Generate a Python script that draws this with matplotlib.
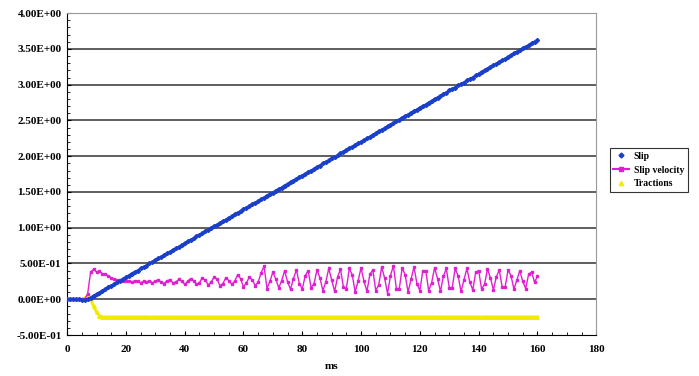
import numpy as np
import matplotlib
matplotlib.use("Agg")
import matplotlib.pyplot as plt
from matplotlib.ticker import MultipleLocator, FixedLocator
from matplotlib.lines import Line2D

# datos, paso de 1 en el eje x (0..160)
tiempo = list(range(0, 161))

slip = [0.00, 0.00, 0.00, 0.00, 0.00, -0.01, -0.01, 0.00, 0.02, 0.05,
        0.07, 0.09, 0.12, 0.14, 0.17, 0.19, 0.21, 0.24, 0.26, 0.28,
        0.31, 0.33, 0.36, 0.38, 0.40, 0.43, 0.45, 0.47, 0.50, 0.52,
        0.55, 0.57, 0.59, 0.62, 0.64, 0.66, 0.69, 0.71, 0.73, 0.76,
        0.78, 0.81, 0.83, 0.85, 0.88, 0.90, 0.92, 0.95, 0.97, 1.00,
        1.02, 1.04, 1.07, 1.09, 1.11, 1.14, 1.16, 1.19, 1.21, 1.23,
        1.26, 1.28, 1.30, 1.33, 1.35, 1.37, 1.40, 1.42, 1.45, 1.47,
        1.49, 1.52, 1.54, 1.56, 1.59, 1.61, 1.64, 1.66, 1.68, 1.71,
        1.73, 1.75, 1.78, 1.80, 1.82, 1.85, 1.87, 1.90, 1.92, 1.94,
        1.97, 1.99, 2.01, 2.04, 2.06, 2.09, 2.11, 2.13, 2.16, 2.18,
        2.20, 2.23, 2.25, 2.27, 2.30, 2.32, 2.35, 2.37, 2.39, 2.42,
        2.44, 2.46, 2.49, 2.51, 2.54, 2.56, 2.58, 2.61, 2.63, 2.65,
        2.68, 2.70, 2.72, 2.75, 2.77, 2.80, 2.82, 2.84, 2.87, 2.89,
        2.92, 2.94, 2.96, 2.99, 3.01, 3.03, 3.06, 3.08, 3.10, 3.13,
        3.15, 3.18, 3.20, 3.22, 3.25, 3.27, 3.29, 3.32, 3.34, 3.36,
        3.39, 3.41, 3.44, 3.46, 3.48, 3.51, 3.53, 3.55, 3.58, 3.60,
        3.62]

slip_velocity = [0.00, 0.00, 0.00, 0.00, 0.00, 0.00, 0.00, 0.08, 0.38, 0.42,
                 0.38, 0.39, 0.36, 0.35, 0.33, 0.30, 0.28, 0.27, 0.27, 0.26,
                 0.26, 0.25, 0.24, 0.26, 0.25, 0.23, 0.25, 0.24, 0.26, 0.23,
                 0.25, 0.27, 0.24, 0.22, 0.26, 0.27, 0.23, 0.24, 0.28, 0.25,
                 0.21, 0.25, 0.29, 0.26, 0.21, 0.23, 0.30, 0.27, 0.20, 0.24,
                 0.31, 0.28, 0.19, 0.22, 0.30, 0.26, 0.21, 0.25, 0.34, 0.29,
                 0.17, 0.23, 0.31, 0.27, 0.19, 0.24, 0.37, 0.46, 0.15, 0.25,
                 0.38, 0.28, 0.16, 0.26, 0.40, 0.24, 0.14, 0.29, 0.41, 0.22,
                 0.14, 0.33, 0.40, 0.16, 0.22, 0.41, 0.30, 0.12, 0.24, 0.43,
                 0.27, 0.11, 0.31, 0.42, 0.17, 0.15, 0.43, 0.34, 0.10, 0.26,
                 0.44, 0.25, 0.11, 0.35, 0.41, 0.12, 0.20, 0.45, 0.30, 0.08,
                 0.33, 0.47, 0.15, 0.15, 0.44, 0.34, 0.10, 0.28, 0.45, 0.22,
                 0.12, 0.40, 0.40, 0.12, 0.23, 0.44, 0.29, 0.11, 0.32, 0.43,
                 0.16, 0.16, 0.43, 0.33, 0.11, 0.27, 0.43, 0.24, 0.13, 0.38,
                 0.40, 0.14, 0.21, 0.42, 0.30, 0.13, 0.31, 0.41, 0.17, 0.17,
                 0.41, 0.33, 0.14, 0.27, 0.40, 0.25, 0.15, 0.35, 0.38, 0.24,
                 0.32]

tractions = [0.00, 0.00, 0.00, 0.00, 0.00, 0.00, 0.02, 0.05, 0.00, -0.10,
             -0.18, -0.23, -0.25, -0.25, -0.25, -0.25, -0.25, -0.25, -0.25, -0.25,
             -0.25, -0.25, -0.25, -0.25, -0.25, -0.25, -0.25, -0.25, -0.25, -0.25,
             -0.25, -0.25, -0.25, -0.25, -0.25, -0.25, -0.25, -0.25, -0.25, -0.25,
             -0.25, -0.25, -0.25, -0.25, -0.25, -0.25, -0.25, -0.25, -0.25, -0.25,
             -0.25, -0.25, -0.25, -0.25, -0.25, -0.25, -0.25, -0.25, -0.25, -0.25,
             -0.25, -0.25, -0.25, -0.25, -0.25, -0.25, -0.25, -0.25, -0.25, -0.25,
             -0.25, -0.25, -0.25, -0.25, -0.25, -0.25, -0.25, -0.25, -0.25, -0.25,
             -0.25, -0.25, -0.25, -0.25, -0.25, -0.25, -0.25, -0.25, -0.25, -0.25,
             -0.25, -0.25, -0.25, -0.25, -0.25, -0.25, -0.25, -0.25, -0.25, -0.25,
             -0.25, -0.25, -0.25, -0.25, -0.25, -0.25, -0.25, -0.25, -0.25, -0.25,
             -0.25, -0.25, -0.25, -0.25, -0.25, -0.25, -0.25, -0.25, -0.25, -0.25,
             -0.25, -0.25, -0.25, -0.25, -0.25, -0.25, -0.25, -0.25, -0.25, -0.25,
             -0.25, -0.25, -0.25, -0.25, -0.25, -0.25, -0.25, -0.25, -0.25, -0.25,
             -0.25, -0.25, -0.25, -0.25, -0.25, -0.25, -0.25, -0.25, -0.25, -0.25,
             -0.25, -0.25, -0.25, -0.25, -0.25, -0.25, -0.25, -0.25, -0.25, -0.25,
             -0.25]

y_ticks = [-0.5, 0.0, 0.5, 1.0, 1.5, 2.0, 2.5, 3.0, 3.5, 4.0]
x_ticks = [0, 20, 40, 60, 80, 100, 120, 140, 160, 180]

azul = "#1a3fc8"
magenta = "#e020d0"
amarillo = "#f2ea00"

fuente = {"family": "Liberation Serif", "weight": "bold", "size": 8}

fig = plt.figure(figsize=(6.99, 3.76), dpi=100)
ax = fig.add_axes([0.096, 0.109, 0.757, 0.856])

# lineas horizontales de la rejilla
for v in y_ticks[1:-1]:
    ax.axhline(v, color="#333333", lw=1.1, zorder=1)

ax.plot(tiempo, tractions, color=amarillo, lw=2, marker="^", ms=2.5, zorder=2)
ax.plot(tiempo, slip_velocity, color=magenta, lw=1, marker="s", ms=2, zorder=3)
ax.plot(tiempo, slip, color=azul, lw=1.8, marker="D", ms=2, zorder=4)

ax.set_xlim(0, 180)
ax.set_ylim(-0.5, 4.0)
ax.xaxis.set_major_locator(FixedLocator(x_ticks))
ax.yaxis.set_major_locator(FixedLocator(y_ticks))
ax.xaxis.set_minor_locator(MultipleLocator(5))
ax.yaxis.set_minor_locator(MultipleLocator(0.1))
ax.set_yticklabels(["%.2E" % v for v in y_ticks], fontdict=fuente)
ax.set_xticklabels([str(v) for v in x_ticks], fontdict=fuente)
ax.tick_params(which="major", direction="in", length=3, width=0.8, pad=7)
ax.tick_params(axis="y", pad=4)
ax.tick_params(which="minor", direction="in", length=2, width=0.6)
ax.set_xlabel("ms", fontdict=fuente, labelpad=6)

ax.spines["top"].set_color("#999999")
ax.spines["right"].set_color("#999999")

# leyenda: Slip y Tractions solo con marcador
h = [Line2D([], [], color=azul, marker="D", ms=2.5, lw=0),
     Line2D([], [], color=magenta, marker="s", ms=2.5, lw=1.5),
     Line2D([], [], color=amarillo, marker="^", ms=3, lw=0)]
l = ["Slip", "Slip velocity", "Tractions"]
leg = fig.legend(h, l, loc="upper left", bbox_to_anchor=(0.872, 0.607),
                 prop={"family": "Liberation Serif", "weight": "bold", "size": 7},
                 frameon=True, fancybox=False, edgecolor="black", handlelength=1.6,
                 handletextpad=0.5, borderaxespad=0, labelspacing=0.5, borderpad=0.4)
leg.get_frame().set_linewidth(0.8)

fig.savefig("out.png", dpi=100)
